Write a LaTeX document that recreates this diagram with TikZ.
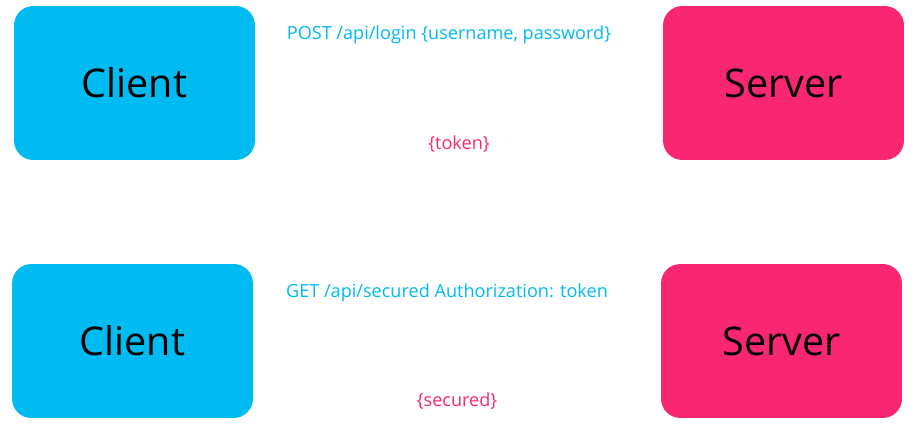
\documentclass[tikz,border=0pt]{standalone}
\usepackage{fontspec}
\setmainfont{Open Sans}
\usepackage{xcolor}
\usepackage{tikz}

\definecolor{clientblue}{RGB}{0,186,242}
\definecolor{serverpink}{RGB}{249,39,114}

\tikzset{
    party/.style={rounded corners=11pt, minimum width=4.82cm, minimum height=3.08cm,
        inner sep=0pt, font=\fontsize{22.5}{26}\selectfont},
    clientbox/.style={party, fill=clientblue},
    serverbox/.style={party, fill=serverpink},
    request/.style={text=clientblue, font=\fontsize{10.3}{12}\selectfont},
    reply/.style={text=serverpink, font=\fontsize{10.3}{12}\selectfont}
}

\begin{document}
\begin{tikzpicture}[x=0.02cm, y=-0.02cm]
        \useasboundingbox (0, 0) rectangle (916, 425);

        % login
        \node[clientbox] (client1) at (134.5, 83) {Client};
        \node[serverbox] (server1) at (783.5, 83) {Server};
        \node[request] (login) at (449, 35) {POST /api/login \{username, password\}};
        \node[reply] (token) at (459, 144) {\{token\}};

        % secured call
        \node[clientbox] (client2) at (132.5, 341) {Client};
        \node[serverbox] (server2) at (781.5, 341) {Server};
        \node[request] (get) at (447, 293) {GET /api/secured Authorization: token};
        \node[reply] (secured) at (457, 401) {\{secured\}};
\end{tikzpicture}
\end{document}
